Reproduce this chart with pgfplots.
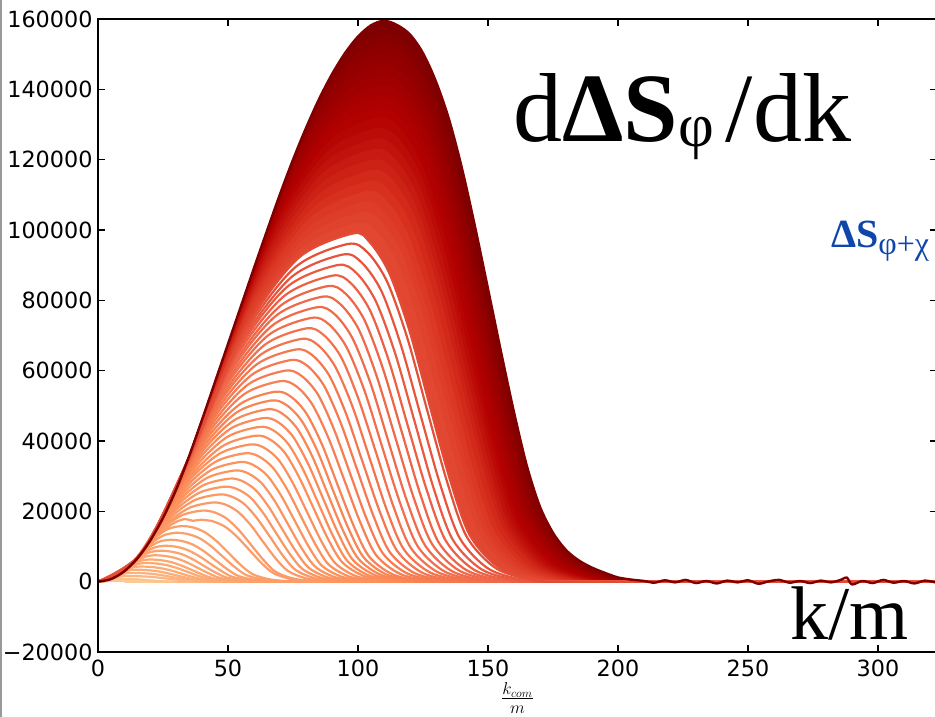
\documentclass[border=0pt]{standalone}
\usepackage{fontspec}
\setmainfont{DejaVu Sans}
\newfontfamily\tnr{Liberation Serif}
\usepackage{pgfplots}
\pgfplotsset{compat=1.18}
\definecolor{c0}{HTML}{FDD49E}
\definecolor{c1}{HTML}{FDBB84}
\definecolor{c2}{HTML}{FC8D59}
\definecolor{c3}{HTML}{EF6548}
\definecolor{c4}{HTML}{D7301F}
\definecolor{c5}{HTML}{B30000}
\definecolor{c6}{HTML}{7F0000}
\definecolor{blu}{RGB}{15,70,170}
\begin{document}
\begin{tikzpicture}
\begin{axis}[
  scale only axis, width=839bp, height=633bp,
  xmin=0, xmax=322.7, ymin=-20000, ymax=160000,
  xtick={0,50,100,150,200,250,300},
  xticklabels={0,50,100,150,200,250,300},
  ytick={-20000,0,20000,40000,60000,80000,100000,120000,140000,160000},
  yticklabels={−20000,0,20000,40000,60000,80000,100000,120000,140000,160000},
  scaled y ticks=false, scaled x ticks=false,
  tick align=inside, major tick length=7.5bp,
  tick label style={font=\fontsize{22.3bp}{26bp}\selectfont},
  xticklabel style={inner sep=0pt, yshift=-8bp},
  yticklabel style={inner sep=0pt, xshift=-5.3bp},
  axis line style={line width=1.5bp},
  every tick/.style={black, line width=1.2bp},
  axis on top, clip mode=individual,
  ln/.style={smooth, line width=2.2bp, mark=none, line join=round},
  fl/.style={smooth, draw=none, mark=none},
]
% ---- dense (filled) curves, largest first ----
\addplot[fl, fill=c6] coordinates {(0,0)(5,730)(10,2900)(15,6500)(20,11600)(25,18100)(30,26100)(35,35600)(40,46000)(45,56800)(50,67600)(55,78400)(60,89200)(65,99800)(70,110200)(75,120000)(80,129000)(85,137200)(90,144300)(95,150300)(100,155000)(105,158200)(110,159500)(115,158300)(120,155600)(125,150300)(130,142200)(135,131500)(140,117500)(145,101000)(150,83300)(155,65400)(160,48200)(165,32800)(170,21300)(175,13900)(180,9000)(185,6000)(190,4000)(195,2500)(200,1200)(205,600)(210,200)(322,0)} \closedcycle;
\addplot[fl, fill=c5!16!c6] coordinates {(0,0)(10,2900)(20,11600)(30,26100)(45,56900)(60,89200)(72,114200)(83.9,135450)(92.6,146870)(101.3,153720)(110,156000)(119.9,152100)(129.9,138370)(139.8,112480)(149.7,79250)(159.7,46020)(169.6,20590)(184.5,5930)(204.3,470)(223,0)(322,0)} \closedcycle;
\addplot[fl, fill=c5!28!c6] coordinates {(0,0)(10,2900)(20,11600)(30,26100)(45,56900)(60,89200)(74.5,119000)(86.3,137900)(98.2,149220)(110,153000)(119.8,149180)(129.6,135710)(139.4,110310)(149.2,77720)(159.1,45140)(168.9,20200)(183.6,5810)(203.2,460)(222,0)(322,0)} \closedcycle;
\addplot[fl, fill=c5!40!c6] coordinates {(0,0)(10,2900)(20,11600)(30,26100)(45,56900)(60,89200)(70.8,111800)(83.7,133040)(96.6,145760)(109.5,150000)(119.2,146250)(128.9,133050)(138.6,108150)(148.3,76200)(158,44250)(167.7,19800)(182.3,5700)(201.7,450)(221,0)(322,0)} \closedcycle;
\addplot[fl, fill=c5!52!c6] coordinates {(0,0)(10,2900)(20,11600)(30,26100)(45,56900)(60,89200)(66.5,102900)(80.8,127420)(95.2,142100)(109.5,147000)(119.1,143330)(128.7,130390)(138.3,105990)(147.9,74680)(157.5,43370)(167,19400)(181.4,5590)(200.6,440)(220,0)(322,0)} \closedcycle;
\addplot[fl, fill=c5!64!c6] coordinates {(0,0)(10,2900)(20,11600)(30,26100)(45,56900)(62,93500)(77.7,121580)(93.3,138390)(109,144000)(118.5,140400)(127.9,127730)(137.4,103820)(146.9,73150)(156.4,42480)(165.8,19010)(180,5470)(199,430)(218,0)(322,0)} \closedcycle;
\addplot[fl, fill=c5!76!c6] coordinates {(0,0)(10,2900)(20,11600)(30,26100)(45,56900)(59.2,87490)(75.8,117240)(92.4,135050)(109,141000)(118.4,137480)(127.7,125070)(137.1,101660)(146.4,71630)(155.8,41600)(165.2,18610)(179.2,5360)(197.9,420)(217,0)(322,0)} \closedcycle;
\addplot[fl, fill=c5!88!c6] coordinates {(0,0)(10,2900)(20,11600)(30,26100)(40,46150)(56.95,82570)(74.1,113390)(91.3,131840)(108.5,138000)(117.7,134550)(127,122410)(136.2,99500)(145.5,70100)(154.7,40710)(163.9,18220)(177.8,5240)(196.3,410)(215,0)(322,0)} \closedcycle;
\addplot[fl, fill=c5] coordinates {(0,0)(10,2900)(20,11600)(30,26100)(40,46150)(54.65,77650)(72.4,109540)(90.2,128630)(108,135000)(117.1,131630)(126.3,119750)(135.4,97340)(144.5,68580)(153.7,39830)(162.8,17820)(176.5,5130)(194.7,410)(214,0)(322,0)} \closedcycle;
\addplot[fl, fill=c4!10!c5] coordinates {(0,0)(10,2900)(20,11600)(30,26100)(40,46150)(52.4,72720)(70.7,105680)(89.1,125410)(107.5,132000)(116.5,128700)(125.5,117080)(134.6,95170)(143.6,67060)(152.6,38940)(161.6,17420)(175.2,5020)(193.2,400)(212,0)(322,0)} \closedcycle;
\addplot[fl, fill=c4!25!c5] coordinates {(0,0)(10,2900)(20,11600)(30,26100)(40,46150)(50.1,67800)(69.05,101830)(88,122200)(107,129000)(115.9,125780)(124.8,114420)(133.7,93010)(142.6,65530)(151.5,38060)(160.4,17030)(173.8,4900)(191.6,390)(211,0)(322,0)} \closedcycle;
\addplot[fl, fill=c4!40!c5] coordinates {(0,0)(10,2900)(20,11600)(30,26100)(40,46150)(47.8,62880)(67.35,97980)(86.9,118990)(106.5,126000)(115.3,122850)(124.1,111760)(132.9,90850)(141.7,64010)(150.5,37170)(159.2,16630)(172.4,4790)(190,380)(209,0)(322,0)} \closedcycle;
\addplot[fl, fill=c4!55!c5] coordinates {(0,0)(10,2900)(20,11600)(30,26100)(45.5,57950)(65.7,94120)(85.8,115770)(106,123000)(114.7,119930)(123.3,109100)(132,88680)(140.7,62480)(149.4,36290)(158,16240)(171,4670)(188.4,370)(207,0)(322,0)} \closedcycle;
\addplot[fl, fill=c4!70!c5] coordinates {(0,0)(10,2900)(20,11600)(30,26100)(43.2,53030)(64,90270)(84.7,112560)(105.5,120000)(114.1,117000)(122.6,106440)(131.2,86520)(139.7,60960)(148.3,35400)(156.9,15840)(169.7,4560)(186.8,360)(205,0)(322,0)} \closedcycle;
\addplot[fl, fill=c4!85!c5] coordinates {(0,0)(10,2900)(20,11600)(30,26100)(40.9,48090)(62.3,86410)(83.6,109350)(105,117000)(113.5,114080)(121.9,103780)(130.4,84360)(138.8,59440)(147.3,34520)(155.7,15440)(168.4,4450)(185.3,350)(203,0)(322,0)} \closedcycle;
\addplot[fl, fill=c4] coordinates {(0,0)(10,2900)(20,11600)(30,26100)(39.1,44200)(60.7,83030)(82.4,106250)(104,114000)(112.3,111150)(120.7,101120)(129,82190)(137.3,57910)(145.7,33630)(154,15050)(166.5,4330)(183.1,340)(200,0)(322,0)} \closedcycle;
\addplot[fl, fill=c3!15!c4] coordinates {(0,0)(10,2900)(20,11600)(30,26100)(37.35,40450)(59.2,79680)(81.1,103160)(103,111000)(111.2,108230)(119.4,98460)(127.7,80030)(135.9,56390)(144.1,32750)(152.3,14650)(164.7,4220)(181.1,330)(197,0)(322,0)} \closedcycle;
\addplot[fl, fill=c3!25!c4] coordinates {(0,0)(10,2900)(20,11600)(30,26100)(36.5,38640)(58.3,77200)(80.2,100290)(102,108000)(110.1,105300)(118.2,95800)(126.3,77870)(134.4,54860)(142.5,31860)(150.6,14260)(162.8,4100)(179,320)(195,0)(322,0)} \closedcycle;
\addplot[fl, fill=c3!35!c4] coordinates {(0,0)(10,2900)(20,11600)(30,26100)(35.85,37270)(57.6,74930)(79.3,97470)(101,105000)(109,102380)(117,93140)(125,75710)(133,53340)(141,30980)(148.9,13860)(160.9,3990)(176.9,320)(192,0)(322,0)} \closedcycle;
\addplot[fl, fill=c3!45!c4] coordinates {(0,0)(10,2900)(20,11600)(30,26100)(35.35,36240)(56.7,72800)(78.1,94690)(99.5,102000)(107.4,99450)(115.3,90470)(123.1,73540)(131,51820)(138.9,30090)(146.8,13460)(158.6,3880)(174.4,310)(189,0)(322,0)} \closedcycle;
\addplot[fl, fill=white] coordinates {(0,0)(10,2900)(20,11600)(30,26100)(34.85,35220)(55.9,70680)(76.9,91910)(98,99000)(104.5,96530)(112,87810)(119.8,71380)(127.5,50290)(135.3,29210)(143.1,13070)(154.7,3760)(170.2,300)(185,0)(322,0)} \closedcycle;
% ---- light curves (lines) ----
\addplot[ln, color=c0!60!c1] coordinates {(0,0)(3,100)(5,220)(7,300)(10,280)(13,220)(16,130)(19,60)(24,10)(30,0)(322,0)};
\addplot[ln, color=c0!30!c1] coordinates {(0,0)(3,200)(5,520)(7,720)(9,800)(12.5,760)(16,620)(19.5,420)(23,220)(27,80)(33,10)(40,0)(322,0)};
\addplot[ln, color=c1!90!c2] coordinates {(0,0)(2.5,180)(5,730)(7,1210)(9,1500)(11,1600)(15.1,1560)(19.2,1420)(23.3,1150)(27.4,810)(31.5,470)(35.6,210)(41.8,60)(50,0)(322,0)};
\addplot[ln, color=c1!80!c2] coordinates {(0,0)(3.5,360)(7,1420)(8.8,2020)(10.7,2380)(12.5,2500)(16.6,2440)(20.7,2220)(24.8,1800)(28.9,1270)(33,740)(37.1,330)(43.3,100)(51.5,10)(60,0)(322,0)};
\addplot[ln, color=c1!72!c2] coordinates {(0,0)(4,460)(8.5,2100)(10.3,2820)(12.2,3260)(14,3400)(18.1,3320)(22.3,3020)(26.4,2450)(30.5,1730)(34.7,1000)(38.8,450)(45,130)(53.2,10)(62,0)(322,0)};
\addplot[ln, color=c1!65!c2] coordinates {(0,0)(4.6,610)(9.2,2450)(11.5,3480)(13.7,4090)(16,4300)(20.2,4190)(24.3,3810)(28.5,3100)(32.6,2180)(36.8,1270)(41,570)(47.2,160)(55.5,10)(64,0)(322,0)};
\addplot[ln, color=c1!60!c2] coordinates {(0,0)(5,730)(10.1,2960)(12.7,4260)(15.4,5040)(18,5300)(22.2,5170)(26.4,4700)(30.6,3820)(34.8,2690)(39,1560)(43.2,700)(49.5,200)(57.9,20)(66,0)(322,0)};
\addplot[ln, color=c1!56!c2] coordinates {(0,0)(5.5,880)(11.1,3570)(13.9,5090)(16.7,6000)(19.5,6300)(23.7,6140)(28,5590)(32.2,4540)(36.5,3200)(40.7,1860)(44.9,830)(51.3,240)(59.8,20)(68,0)(322,0)};
\addplot[ln, color=c1!52!c2] coordinates {(0,0)(6,1040)(12,4180)(15.2,6030)(18.3,7130)(21.5,7500)(25.8,7310)(30.1,6650)(34.4,5410)(38.7,3810)(43,2210)(47.2,990)(53.7,290)(62.3,20)(70,0)(322,0)};
\addplot[ln, color=c1!48!c2] coordinates {(0,0)(6.5,1230)(13,4900)(16.5,7070)(20,8370)(23.5,8800)(27.8,8580)(32.2,7810)(36.5,6340)(40.8,4470)(45.2,2600)(49.5,1160)(56,330)(64.6,30)(73,0)(322,0)};
\addplot[ln, color=c1!45!c2] coordinates {(0,0)(7,1420)(13.8,5520)(17.7,8120)(21.6,9680)(25.5,10200)(29.9,9950)(34.3,9050)(38.7,7350)(43.1,5180)(47.5,3010)(51.8,1350)(58.4,390)(67.2,30)(76,0)(322,0)};
\addplot[ln, color=c1!42!c2] coordinates {(0,0)(7.5,1630)(15,6500)(19.2,9500)(23.3,11300)(27.5,11900)(32,11600)(36.4,10560)(40.9,8580)(45.3,6050)(49.8,3510)(54.2,1570)(60.9,450)(69.8,40)(78,0)(322,0)};
\addplot[ln, color=c1!39!c2] coordinates {(0,0)(8,1860)(16,7420)(20.7,11020)(25.3,13180)(30,13900)(34.5,13550)(39.1,12330)(43.6,10020)(48.1,7060)(52.7,4100)(57.2,1830)(64,530)(73,40)(82,0)(322,0)};
\addplot[ln, color=c1!36!c2] coordinates {(0,0)(8.5,2100)(17,8380)(22,12500)(27,14980)(32,15800)(36.6,15410)(41.2,14010)(45.8,11390)(50.4,8030)(55,4660)(59.6,2090)(66.5,600)(75.7,50)(85,0)(322,0)};
\addplot[ln, color=c1!33!c2] coordinates {(0,0)(8.7,2190)(17.3,8680)(23.9,13800)(29.5,16800)(33.5,17800)(36.5,17300)(39.5,17600)(44.2,17160)(48.9,15610)(53.6,12690)(58.3,8940)(63,5190)(67.7,2320)(74.8,670)(84.2,50)(94,0)(322,0)};
\addplot[ln, color=c1!30!c2] coordinates {(0,0)(8.8,2250)(17.5,8880)(25,15170)(32.5,18940)(40,20200)(44.8,19700)(49.5,17920)(54.3,14560)(59.1,10260)(63.9,5960)(68.6,2670)(75.8,770)(85.3,60)(95,0)(322,0)};
\addplot[ln, color=c1!27!c2] coordinates {(0,0)(8.9,2300)(17.7,9090)(26.5,16540)(35.2,21000)(44,22500)(48.9,21940)(53.7,19960)(58.6,16220)(63.4,11430)(68.3,6640)(73.2,2970)(80.5,860)(90.2,70)(100,0)(322,0)};
\addplot[ln, color=c1!24!c2] coordinates {(0,0)(9.2,2450)(18.4,9820)(27.8,18150)(37.1,23140)(46.5,24800)(51.4,24180)(56.4,22000)(61.3,17880)(66.3,12600)(71.2,7320)(76.1,3270)(83.6,940)(93.4,70)(103,0)(322,0)};
\addplot[ln, color=c1!21!c2] coordinates {(0,0)(9.6,2670)(19.2,10690)(29,19760)(38.7,25190)(48.5,27000)(53.5,26330)(58.6,23950)(63.6,19470)(68.6,13720)(73.7,7970)(78.7,3560)(86.2,1030)(96.3,80)(106,0)(322,0)};
\addplot[ln, color=c1!18!c2] coordinates {(0,0)(10,2900)(20,11600)(30.2,21440)(40.3,27330)(50.5,29300)(55.6,28570)(60.7,25990)(65.8,21130)(70.9,14880)(76.1,8640)(81.2,3870)(88.8,1110)(99,90)(109,0)(322,0)};
\addplot[ln, color=c1!15!c2] coordinates {(0,0)(10.4,3140)(20.8,12550)(31.4,23140)(41.9,29480)(52.5,31600)(57.7,30810)(62.9,28030)(68.1,22780)(73.3,16050)(78.5,9320)(83.7,4170)(91.5,1200)(101.9,90)(112,0)(322,0)};
\addplot[ln, color=c1!12!c2] coordinates {(0,0)(10.8,3380)(21.5,13410)(32.5,24860)(43.5,31710)(54.5,34000)(59.8,33150)(65.1,30160)(70.4,24510)(75.7,17270)(81,10030)(86.2,4490)(94.2,1290)(104.8,100)(115,0)(322,0)};
\addplot[ln, color=c1!9!c2] coordinates {(0,0)(11.2,3640)(22.3,14420)(33.7,26700)(45.1,34050)(56.5,36500)(61.9,35590)(67.3,32380)(72.7,26320)(78.1,18540)(83.5,10770)(88.8,4820)(96.9,1390)(107.7,110)(118,0)(322,0)};
\addplot[ln, color=c1!6!c2] coordinates {(0,0)(11.5,3840)(23,15340)(34.8,28500)(46.7,36370)(58.5,39000)(64,38030)(69.5,34590)(74.9,28120)(80.4,19810)(85.9,11510)(91.4,5150)(99.6,1480)(110.6,120)(121,0)(322,0)};
\addplot[ln, color=c1!3!c2] coordinates {(0,0)(11.8,4040)(23.6,16150)(35.9,30240)(48.2,38680)(60.5,41500)(66.1,40460)(71.7,36810)(77.2,29920)(82.8,21080)(88.4,12240)(94,5480)(102.4,1580)(113.5,120)(124,0)(322,0)};
\addplot[ln, color=c2] coordinates {(0,0)(12.3,4390)(24.5,17410)(37,32190)(49.5,41050)(62,44000)(67.7,42900)(73.3,39030)(79,31720)(84.7,22350)(90.4,12980)(96,5810)(104.5,1670)(115.9,130)(127,0)(322,0)};
\addplot[ln, color=c2!93!c3] coordinates {(0,0)(12.6,4600)(25.25,18490)(38,34060)(50.75,43390)(63.5,46500)(69.3,45340)(75,41250)(80.8,33530)(86.6,23620)(92.4,13720)(98.1,6140)(106.8,1770)(118.3,140)(130,0)(322,0)};
\addplot[ln, color=c2!86!c3] coordinates {(0,0)(13,4900)(26,19600)(39,35950)(52,45730)(65,49000)(70.9,47780)(76.7,43460)(82.6,35330)(88.4,24890)(94.3,14460)(100.2,6470)(109,1860)(120.7,150)(132,0)(322,0)};
\addplot[ln, color=c2!79!c3] coordinates {(0,0)(13.4,5210)(26.7,20670)(40,37810)(53.2,48070)(66.5,51500)(72.5,50210)(78.4,45680)(84.4,37130)(90.3,26160)(96.3,15190)(102.3,6800)(111.2,1960)(123.1,150)(135,0)(322,0)};
\addplot[ln, color=c2!72!c3] coordinates {(0,0)(13.7,5440)(27.4,21770)(40.9,39690)(54.5,50420)(68,54000)(74.1,52650)(80.1,47900)(86.2,38930)(92.2,27430)(98.3,15930)(104.3,7130)(113.4,2050)(125.5,160)(137,0)(322,0)};
\addplot[ln, color=c2!65!c3] coordinates {(0,0)(14,5680)(28.1,22900)(42.1,41860)(56,53210)(70,57000)(76.2,55580)(82.3,50560)(88.5,41100)(94.7,28960)(100.9,16820)(107,7520)(116.3,2170)(128.6,170)(140,0)(322,0)};
\addplot[ln, color=c2!58!c3] coordinates {(0,0)(14.4,6010)(28.75,23970)(43.2,44000)(57.6,56000)(72,60000)(78.3,58500)(84.6,53220)(90.8,43260)(97.1,30480)(103.4,17700)(109.7,7920)(119.1,2280)(131.7,180)(143,0)(322,0)};
\addplot[ln, color=c2!51!c3] coordinates {(0,0)(14.7,6270)(29.35,24980)(44.2,46120)(59.1,58780)(74,63000)(80.4,61430)(86.8,55880)(93.2,45420)(99.6,32000)(106,18590)(112.3,8320)(121.9,2390)(134.7,190)(146,0)(322,0)};
\addplot[ln, color=c2!44!c3] coordinates {(0,0)(15,6530)(29.95,26010)(45.3,48240)(60.65,61560)(76,66000)(82.5,64350)(89,58540)(95.5,47590)(102,33530)(108.6,19470)(115.1,8710)(124.8,2510)(137.8,200)(150,0)(322,0)};
\addplot[ln, color=c2!37!c3] coordinates {(0,0)(15.25,6740)(30.5,26980)(46.3,50340)(62.2,64330)(78,69000)(84.6,67280)(91.2,61200)(97.9,49750)(104.5,35050)(111.1,20360)(117.7,9110)(127.7,2620)(140.9,210)(153,0)(322,0)};
\addplot[ln, color=c2!30!c3] coordinates {(0,0)(15.5,6970)(31,27870)(47.4,52410)(63.7,67100)(80,72000)(86.7,70200)(93.5,63860)(100.2,51910)(107,36580)(113.7,21240)(120.4,9500)(130.6,2740)(144,220)(156,0)(322,0)};
\addplot[ln, color=c2!23!c3] coordinates {(0,0)(15.8,7240)(31.55,28870)(48.35,54520)(65.15,69870)(82,75000)(88.9,73130)(95.7,66530)(102.6,54080)(109.4,38100)(116.3,22130)(123.1,9900)(133.4,2850)(147.1,230)(160,0)(322,0)};
\addplot[ln, color=c2!16!c3] coordinates {(0,0)(16,7420)(32,29700)(49.35,56550)(66.7,72630)(84,78000)(91,76050)(97.9,69190)(104.9,56240)(111.8,39620)(118.8,23010)(125.8,10300)(136.2,2960)(150.1,230)(163,0)(322,0)};
\addplot[ln, color=c2!9!c3] coordinates {(0,0)(16.25,7660)(32.5,30630)(50.3,58640)(68.1,75400)(86,81000)(93.1,78980)(100.2,71850)(107.2,58400)(114.3,41150)(121.4,23900)(128.5,10690)(139.1,3080)(153.3,240)(166,0)(322,0)};
\addplot[ln, color=c3] coordinates {(0,0)(16.45,7850)(32.9,31390)(51.3,60640)(69.7,78150)(88,84000)(95.2,81900)(102.4,74510)(109.6,60560)(116.8,42670)(124,24780)(131.1,11090)(141.9,3190)(156.3,250)(170,0)(322,0)};
\addplot[ln, color=c3!90!c4] coordinates {(0,0)(16.7,8090)(33.35,32250)(52.2,62690)(71.1,80920)(90,87000)(97.3,84830)(104.6,77170)(111.9,62730)(119.2,44200)(126.6,25670)(133.9,11480)(144.8,3310)(159.4,260)(173,0)(322,0)};
\addplot[ln, color=c3!80!c4] coordinates {(0,0)(16.9,8280)(33.75,33030)(53.15,64710)(72.5,83670)(92,90000)(99.4,87750)(106.8,79830)(114.3,64890)(121.7,45720)(129.1,26550)(136.5,11880)(147.7,3420)(162.5,270)(176,0)(322,0)};
\addplot[ln, color=c3!70!c4] coordinates {(0,0)(17,8380)(34.1,33720)(54.1,66680)(74.1,86410)(94,93000)(101.5,90680)(109.1,82490)(116.6,67050)(124.1,47240)(131.7,27440)(139.2,12280)(150.5,3530)(165.5,280)(180,0)(322,0)};
\addplot[ln, color=c3!60!c4] coordinates {(0,0)(17.25,8630)(34.5,34520)(55,68700)(75.5,89170)(96,96000)(103.7,93600)(111.3,85150)(119,69220)(126.6,48770)(134.3,28320)(141.9,12670)(153.4,3650)(168.7,290)(183,0)(322,0)};
\addplot[ln, color=c3!50!c4] coordinates {(0,0)(10,2900)(20,11600)(30,26100)(34.85,35220)(55.9,70680)(76.9,91910)(98,99000)(104.5,96530)(112,87810)(119.8,71380)(127.5,50290)(135.3,29210)(143.1,13070)(154.7,3760)(170.2,300)(185,0)(322,0)};
% ---- final curve (line, on top) ----
\addplot[ln, color=c6, line width=2.4bp] coordinates {(0,0)(5,730)(10,2900)(15,6500)(20,11600)(25,18100)(30,26100)(35,35600)(40,46000)(45,56800)(50,67600)(55,78400)(60,89200)(65,99800)(70,110200)(75,120000)(80,129000)(85,137200)(90,144300)(95,150300)(100,155000)(105,158200)(110,159500)(115,158300)(120,155600)(125,150300)(130,142200)(135,131500)(140,117500)(145,101000)(150,83300)(155,65400)(160,48200)(165,32800)(170,21300)(175,13900)(180,9000)(185,6000)(190,4000)(195,2500)(200,1200)(205,600)(210,200)(214,-300)(218,400)(222,-200)(226,500)(230,-400)(234,200)(238,-500)(242,300)(246,-200)(250,400)(254,-600)(258,100)(262,500)(266,-300)(270,200)(274,-400)(278,300)(282,-200)(286,600)(288,1200)(290,-800)(294,200)(298,-400)(302,500)(306,-300)(310,200)(314,-500)(318,300)(322,-200)};
% ---- texts ----
\node[anchor=base west, inner sep=0pt] at (axis cs:159.6,125100) {\tnr\fontsize{98bp}{98bp}\selectfont d{\bfseries ΔS}\raisebox{-5bp}{\fontsize{62bp}{62bp}\selectfont φ}\hspace{12bp}/dk};
\node[anchor=base west, inner sep=0pt, text=blu] at (axis cs:281.9,95000) {\tnr\fontsize{40bp}{40bp}\selectfont\bfseries ΔS\raisebox{-7bp}{\fontsize{32bp}{32bp}\selectfont\mdseries φ+χ}};
\node[anchor=base west, inner sep=0pt] at (axis cs:266.2,-16500) {\tnr\fontsize{76bp}{76bp}\selectfont k/m};
\node at (rel axis cs:0.5,0) [yshift=-46bp] {\fontsize{24bp}{28bp}\selectfont$\frac{k_{com}}{m}$};
\end{axis}
\pgfresetboundingbox
\useasboundingbox (-98bp,-65bp) rectangle (837bp,652bp);
\draw[gray!80, line width=2bp] (-97bp,-65bp) -- (-97bp,652bp);
\end{tikzpicture}
\end{document}
